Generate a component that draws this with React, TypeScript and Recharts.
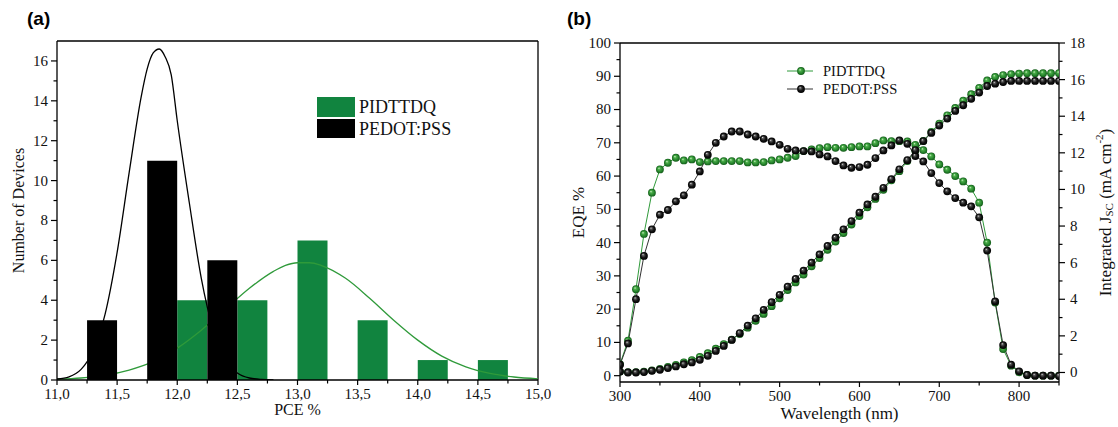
import React from "react";
import { ComposedChart, Bar, Line, XAxis, YAxis, ReferenceLine, Label } from "recharts";

const SERIF = '"Liberation Serif", "Times New Roman", serif';
const SANS = '"Liberation Sans", Arial, sans-serif';

// ---- (a) PCE histogram ----
const pceTicks = [11, 11.25, 11.5, 11.75, 12, 12.25, 12.5, 12.75, 13, 13.25, 13.5, 13.75, 14, 14.25, 14.5, 14.75, 15];
const countTicks = [0, 1, 2, 3, 4, 5, 6, 7, 8, 9, 10, 11, 12, 13, 14, 15, 16];
// histogram bins (start of each 0.25 wide bin)
const pceBins = [11.0, 11.25, 11.5, 11.75, 12.0, 12.25, 12.5, 12.75, 13.0, 13.25, 13.5, 13.75, 14.0, 14.25, 14.5, 14.75];

const pedotBinStart = [11.25, 11.75, 12.25];
const pedotCounts = [3, 11, 6];
const pidBinStart = [12.0, 12.5, 13.0, 13.5, 14.0, 14.5];
const pidCounts = [4, 4, 7, 3, 1, 1];

// gaussian fit curves
const pedotFitX = [11.0, 11.1, 11.2, 11.3, 11.4, 11.5, 11.6, 11.7, 11.75, 11.8, 11.85, 11.9, 11.95, 12.0, 12.1, 12.2, 12.3, 12.4, 12.5, 12.6, 12.7, 12.8];
const pedotFitY = [0.05, 0.16, 0.53, 1.45, 3.3, 6.4, 10.4, 14.2, 15.6, 16.4, 16.6, 16.2, 15.3, 13.0, 8.9, 5.1, 2.5, 1.0, 0.35, 0.1, 0.03, 0.01];
const pidFitX = [11.0, 11.2, 11.4, 11.6, 11.8, 12.0, 12.2, 12.4, 12.6, 12.8, 12.9, 13.0, 13.1, 13.2, 13.4, 13.6, 13.8, 14.0, 14.2, 14.4, 14.6, 14.8, 15.0];
const pidFitY = [0.04, 0.1, 0.24, 0.5, 0.92, 1.6, 2.5, 3.55, 4.6, 5.45, 5.75, 5.88, 5.88, 5.74, 5.1, 4.1, 3.0, 2.0, 1.2, 0.66, 0.33, 0.15, 0.06];

// ---- (b) EQE / integrated Jsc ----
const wavelength = [300, 310, 320, 330, 340, 350, 360, 370, 380, 390, 400, 410, 420, 430, 440, 450, 460, 470, 480, 490, 500, 510, 520, 530, 540, 550, 560, 570, 580, 590, 600, 610, 620, 630, 640, 650, 660, 670, 680, 690, 700, 710, 720, 730, 740, 750, 760, 770, 780, 790, 800, 810, 820, 830, 840, 850];
const eqePid = [3.5, 10.5, 26, 42.6, 55, 62, 64, 65.5, 64.7, 65, 64.2, 64.4, 64.5, 64.5, 64.5, 64.5, 64.1, 64.1, 64.2, 64.7, 65, 65.5, 66, 67.5, 68, 68.4, 68.7, 68.5, 68.5, 68.7, 68.9, 68.9, 69.9, 70.7, 70.5, 70.5, 70.4, 69.4, 67.8, 65.9, 63.5, 61.9, 60, 58.4, 56.2, 52, 40, 22, 8, 3, 1, 0.2, 0, 0, 0, 0];
const eqePedot = [3.3, 9.7, 23, 36, 44, 48.4, 49.8, 52.4, 54.2, 57.4, 61.4, 66.4, 70, 71.9, 73.4, 73.4, 72.5, 71.9, 71.2, 70.4, 69.4, 68.2, 67.7, 67.5, 67.4, 66.5, 65.9, 64.5, 63.2, 62.5, 62.7, 63.4, 65.4, 67.7, 69.2, 70.7, 69.7, 66, 64.4, 60.9, 57.9, 55.4, 53.4, 52, 50.9, 47.6, 37.6, 22.3, 9.2, 3.3, 1.3, 0.2, 0, 0, 0, -0.1];
const jscPid = [0.05, 0.02, 0.02, 0.05, 0.12, 0.2, 0.3, 0.42, 0.55, 0.68, 0.85, 1.05, 1.3, 1.55, 1.8, 2.1, 2.45, 2.82, 3.2, 3.62, 4.05, 4.5, 4.92, 5.35, 5.8, 6.25, 6.7, 7.15, 7.62, 8.08, 8.55, 9.02, 9.48, 9.98, 10.5, 11.0, 11.55, 12.1, 12.65, 13.15, 13.6, 14.05, 14.45, 14.85, 15.2, 15.55, 15.95, 16.15, 16.25, 16.3, 16.33, 16.35, 16.35, 16.35, 16.35, 16.35];
const jscPedot = [0.05, 0, 0, 0.02, 0.09, 0.15, 0.24, 0.33, 0.45, 0.55, 0.69, 0.91, 1.18, 1.45, 1.78, 2.15, 2.56, 2.96, 3.42, 3.84, 4.24, 4.69, 5.11, 5.56, 6.0, 6.45, 6.91, 7.36, 7.82, 8.27, 8.73, 9.18, 9.6, 10.09, 10.56, 11.1, 11.6, 12.15, 12.64, 13.09, 13.49, 13.87, 14.29, 14.6, 14.95, 15.29, 15.65, 15.78, 15.87, 15.93, 15.93, 15.93, 15.93, 15.93, 15.93, 15.93];
const wlTicks = [300, 350, 400, 450, 500, 550, 600, 650, 700, 750, 800, 850];
const eqeTicks = [0, 5, 10, 15, 20, 25, 30, 35, 40, 45, 50, 55, 60, 65, 70, 75, 80, 85, 90, 95, 100];
const jscTicks = [0, 1, 2, 3, 4, 5, 6, 7, 8, 9, 10, 11, 12, 13, 14, 15, 16, 17, 18];

const seriesNames = ["PIDTTDQ", "PEDOT:PSS"];
const GREEN = "#11843f";
const GREEN_LINE = "#2f9a3a";

const countFor = (starts: number[], counts: number[], b: number) => {
  const i = starts.findIndex((s) => Math.abs(s - b) < 1e-9);
  return i < 0 ? 0 : counts[i];
};
const histData = pceBins.map((b) => ({
  bin: b,
  pedot: countFor(pedotBinStart, pedotCounts, b),
  pid: countFor(pidBinStart, pidCounts, b),
}));
const pedotFit = pedotFitX.map((x, i) => ({ pce: x, fit: pedotFitY[i] }));
const pidFit = pidFitX.map((x, i) => ({ pce: x, fit: pidFitY[i] }));

const eqeData = wavelength.map((w, i) => ({
  wl: w,
  eqePid: eqePid[i],
  eqePedot: eqePedot[i],
  jscPid: jscPid[i],
  jscPedot: jscPedot[i],
}));

const isMult = (v: number, m: number) => Math.abs(v / m - Math.round(v / m)) < 1e-6;

function BottomTick(props: any) {
  const { x, y, payload, major, fmt } = props;
  const v = payload.value;
  const isMajor = major(v);
  return (
    <g>
      <line x1={x} x2={x} y1={y} y2={y + (isMajor ? 5 : 3.5)} stroke="#000" strokeWidth={1.2} />
      {isMajor && (
        <text x={x} y={y + 19} textAnchor="middle" fontSize={15} fontFamily={SERIF} fill="#111">
          {fmt(v)}
        </text>
      )}
    </g>
  );
}

function LeftTick(props: any) {
  const { x, y, payload, major, fmt } = props;
  const v = payload.value;
  const isMajor = major(v);
  return (
    <g>
      <line x1={x} x2={x - (isMajor ? 6 : 3.5)} y1={y} y2={y} stroke="#000" strokeWidth={1.2} />
      {isMajor && (
        <text x={x - 9} y={y} dy="0.33em" textAnchor="end" fontSize={15} fontFamily={SERIF} fill="#111">
          {fmt(v)}
        </text>
      )}
    </g>
  );
}

function RightTick(props: any) {
  const { x, y, payload, major, fmt } = props;
  const v = payload.value;
  const isMajor = major(v);
  return (
    <g>
      <line x1={x} x2={x + (isMajor ? 6 : 3.5)} y1={y} y2={y} stroke="#000" strokeWidth={1.2} />
      {isMajor && (
        <text x={x + 11} y={y} dy="0.33em" textAnchor="start" fontSize={15} fontFamily={SERIF} fill="#111">
          {fmt(v)}
        </text>
      )}
    </g>
  );
}

const makeBall = (id: string) => (props: any) => {
  const { cx, cy, index } = props;
  if (cx == null || cy == null) return <g key={index} />;
  return <circle key={index} cx={cx} cy={cy} r={3.9} fill={`url(#${id})`} />;
};
const greenBall = makeBall("ballGreen");
const blackBall = makeBall("ballBlack");

const A_MARGIN = { top: 41, right: 22, bottom: 17, left: 17 };

// bottom layer: axes, PIDTTDQ bars and fit
function PanelABase() {
  return (
    <ComposedChart width={560} height={427} data={histData} barCategoryGap={0} barGap={0} margin={A_MARGIN}>
      <XAxis xAxisId="bins" dataKey="bin" type="category" hide height={0} />
      <XAxis
        xAxisId="pce"
        dataKey="pce"
        type="number"
        domain={[11, 15]}
        allowDataOverflow
        ticks={pceTicks}
        interval={0}
        height={30}
        tickSize={0}
        tickMargin={0}
        tickLine={false}
        axisLine={{ stroke: "#000", strokeWidth: 1.3 }}
        tick={<BottomTick major={(v: number) => isMult(v, 0.5)} fmt={(v: number) => v.toFixed(1).replace(".", ",")} />}
      >
        <Label
          content={({ viewBox }: any) => (
            <text x={viewBox.x + viewBox.width / 2} y={viewBox.y + 35} textAnchor="middle" fontSize={16} fontFamily={SERIF} fill="#111">
              PCE %
            </text>
          )}
        />
      </XAxis>
      <YAxis
        type="number"
        domain={[0, 17]}
        allowDataOverflow
        ticks={countTicks}
        interval={0}
        width={40}
        tickSize={0}
        tickMargin={0}
        tickLine={false}
        axisLine={{ stroke: "#000", strokeWidth: 1.3 }}
        tick={<LeftTick major={(v: number) => isMult(v, 2)} fmt={(v: number) => String(v)} />}
      >
        <Label
          content={({ viewBox }: any) => {
            const cx = viewBox.x + 1;
            const cy = viewBox.y + viewBox.height / 2;
            return (
              <text x={cx} y={cy} transform={`rotate(-90 ${cx} ${cy})`} textAnchor="middle" dominantBaseline="central" fontSize={16} fontFamily={SERIF} fill="#111">
                Number of Devices
              </text>
            );
          }}
        />
      </YAxis>
      <ReferenceLine xAxisId="pce" y={17} stroke="#000" strokeWidth={1.3} />
      <ReferenceLine xAxisId="pce" x={15} stroke="#000" strokeWidth={1.3} />
      <Bar xAxisId="bins" dataKey="pid" fill={GREEN} isAnimationActive={false} />
      <Line xAxisId="pce" data={pidFit} dataKey="fit" type="monotone" stroke={GREEN_LINE} strokeWidth={1.3} dot={false} activeDot={false} isAnimationActive={false} />
    </ComposedChart>
  );
}

// top layer: PEDOT:PSS bars and fit, same plot area (invisible axes keep the same offsets)
function PanelATop() {
  return (
    <ComposedChart width={560} height={427} data={histData} barCategoryGap={0} barGap={0} margin={A_MARGIN}>
      <XAxis xAxisId="bins" dataKey="bin" type="category" hide height={0} />
      <XAxis xAxisId="pce" dataKey="pce" type="number" domain={[11, 15]} allowDataOverflow height={30} axisLine={false} tickLine={false} tick={false} />
      <YAxis type="number" domain={[0, 17]} allowDataOverflow width={40} axisLine={false} tickLine={false} tick={false} />
      <Bar xAxisId="bins" dataKey="pedot" fill="#000" isAnimationActive={false} />
      <Line xAxisId="pce" data={pedotFit} dataKey="fit" type="monotone" stroke="#000" strokeWidth={1.3} dot={false} activeDot={false} isAnimationActive={false} />
    </ComposedChart>
  );
}

function PanelB() {
  return (
    <ComposedChart
      width={558}
      height={427}
      data={eqeData}
      margin={{ top: 43, right: 19, bottom: 15, left: 20 }}
    >
      <XAxis
        dataKey="wl"
        type="number"
        domain={[300, 850]}
        allowDataOverflow
        ticks={wlTicks}
        interval={0}
        height={30}
        tickSize={0}
        tickMargin={0}
        tickLine={false}
        axisLine={{ stroke: "#000", strokeWidth: 1.3 }}
        tick={<BottomTick major={(v: number) => isMult(v, 100) && v <= 800} fmt={(v: number) => String(v)} />}
      >
        <Label
          content={({ viewBox }: any) => (
            <text x={viewBox.x + viewBox.width / 2} y={viewBox.y + 37} textAnchor="middle" fontSize={17} fontFamily={SERIF} fill="#111">
              Wavelength (nm)
            </text>
          )}
        />
      </XAxis>
      <YAxis
        yAxisId="eqe"
        type="number"
        domain={[-1.9, 100]}
        allowDataOverflow
        ticks={eqeTicks}
        interval={0}
        width={40}
        tickSize={0}
        tickMargin={0}
        tickLine={false}
        axisLine={{ stroke: "#000", strokeWidth: 1.3 }}
        tick={<LeftTick major={(v: number) => isMult(v, 10)} fmt={(v: number) => String(v)} />}
      >
        <Label
          content={({ viewBox }: any) => {
            const cx = viewBox.x - 2;
            const cy = viewBox.y + viewBox.height / 2;
            return (
              <text x={cx} y={cy} transform={`rotate(-90 ${cx} ${cy})`} textAnchor="middle" dominantBaseline="central" fontSize={17} fontFamily={SERIF} fill="#111">
                EQE %
              </text>
            );
          }}
        />
      </YAxis>
      <YAxis
        yAxisId="jsc"
        orientation="right"
        type="number"
        domain={[-0.52, 18]}
        allowDataOverflow
        ticks={jscTicks}
        interval={0}
        width={40}
        tickSize={0}
        tickMargin={0}
        tickLine={false}
        axisLine={{ stroke: "#000", strokeWidth: 1.3 }}
        tick={<RightTick major={(v: number) => isMult(v, 2)} fmt={(v: number) => String(v)} />}
      >
        <Label
          content={({ viewBox }: any) => {
            const cx = viewBox.x + 46;
            const cy = viewBox.y + viewBox.height / 2;
            return (
              <text x={cx} y={cy} transform={`rotate(-90 ${cx} ${cy})`} textAnchor="middle" dominantBaseline="central" fontSize={17} fontFamily={SERIF} fill="#111">
                <tspan>Integrated J</tspan>
                <tspan fontSize={11} dy={4}>SC</tspan>
                <tspan dy={-4}> (mA cm</tspan>
                <tspan fontSize={11} dy={-6}>-2</tspan>
                <tspan dy={6}>)</tspan>
              </text>
            );
          }}
        />
      </YAxis>
      <ReferenceLine yAxisId="eqe" y={100} stroke="#000" strokeWidth={1.3} />
      <Line yAxisId="eqe" dataKey="eqePid" type="linear" stroke={GREEN_LINE} strokeWidth={1} dot={greenBall} activeDot={false} isAnimationActive={false} />
      <Line yAxisId="jsc" dataKey="jscPid" type="linear" stroke={GREEN_LINE} strokeWidth={1} dot={greenBall} activeDot={false} isAnimationActive={false} />
      <Line yAxisId="eqe" dataKey="eqePedot" type="linear" stroke="#333" strokeWidth={1} dot={blackBall} activeDot={false} isAnimationActive={false} />
      <Line yAxisId="jsc" dataKey="jscPedot" type="linear" stroke="#333" strokeWidth={1} dot={blackBall} activeDot={false} isAnimationActive={false} />
    </ComposedChart>
  );
}

export default function App() {
  return (
    <div style={{ position: "absolute", left: 0, top: 0, width: 1118, height: 427, background: "#fff", overflow: "hidden" }}>
      <svg width={0} height={0} style={{ position: "absolute" }}>
        <defs>
          <radialGradient id="ballGreen" cx="50%" cy="50%" r="50%" fx="36%" fy="32%">
            <stop offset="0%" stopColor="#d6f3cf" />
            <stop offset="30%" stopColor="#4caf4a" />
            <stop offset="75%" stopColor="#23802a" />
            <stop offset="100%" stopColor="#145a19" />
          </radialGradient>
          <radialGradient id="ballBlack" cx="50%" cy="50%" r="50%" fx="36%" fy="32%">
            <stop offset="0%" stopColor="#f2f2f2" />
            <stop offset="22%" stopColor="#5e5e5e" />
            <stop offset="60%" stopColor="#151515" />
            <stop offset="100%" stopColor="#000" />
          </radialGradient>
        </defs>
      </svg>

      <div style={{ position: "absolute", left: 0, top: 0 }}>
        <PanelABase />
      </div>
      <div style={{ position: "absolute", left: 0, top: 0 }}>
        <PanelATop />
      </div>
      <div style={{ position: "absolute", left: 560, top: 0 }}>
        <PanelB />
      </div>

      <div style={{ position: "absolute", left: 27, top: 8, fontFamily: SANS, fontWeight: 700, fontSize: 19 }}>(a)</div>
      <div style={{ position: "absolute", left: 567, top: 8, fontFamily: SANS, fontWeight: 700, fontSize: 19 }}>(b)</div>

      {/* legend (a) */}
      <svg style={{ position: "absolute", left: 310, top: 92 }} width={160} height={52}>
        <rect x={7} y={5} width={38} height={20} fill={GREEN} />
        <rect x={7} y={27} width={38} height={19} fill="#000" />
        <text x={49} y={15} dy="0.35em" fontSize={18} fontFamily={SERIF} fill="#111">{seriesNames[0]}</text>
        <text x={49} y={37} dy="0.35em" fontSize={18} fontFamily={SERIF} fill="#111">{seriesNames[1]}</text>
      </svg>

      {/* legend (b) */}
      <svg style={{ position: "absolute", left: 780, top: 60 }} width={140} height={40}>
        <line x1={7} x2={33} y1={11} y2={11} stroke={GREEN_LINE} strokeWidth={1} />
        <circle cx={21} cy={11} r={3.9} fill="url(#ballGreen)" />
        <line x1={7} x2={33} y1={29} y2={29} stroke="#333" strokeWidth={1} />
        <circle cx={21} cy={29} r={3.9} fill="url(#ballBlack)" />
        <text x={43} y={11} dy="0.35em" fontSize={14.5} fontFamily={SERIF} fill="#111">{seriesNames[0]}</text>
        <text x={43} y={29} dy="0.35em" fontSize={14.5} fontFamily={SERIF} fill="#111">{seriesNames[1]}</text>
      </svg>
    </div>
  );
}
